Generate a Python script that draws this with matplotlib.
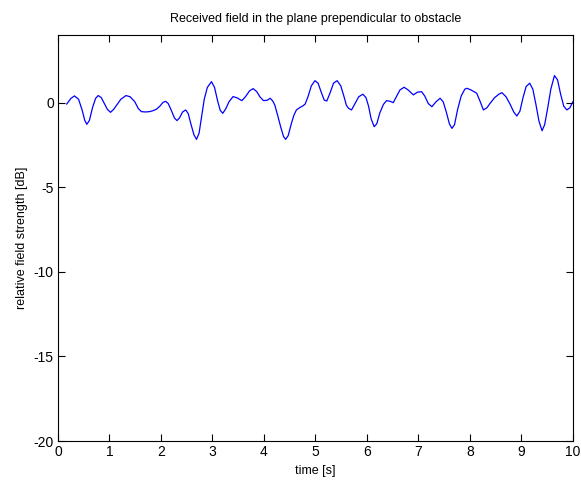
import matplotlib
matplotlib.use("Agg")
import matplotlib.pyplot as plt

plt.rcParams['font.family'] = ['Liberation Sans', 'DejaVu Sans']
plt.rcParams['axes.unicode_minus'] = False

# time [s] and relative field strength [dB]
time_s = [
    0.17, 0.25, 0.32, 0.40, 0.47, 0.52, 0.56, 0.61, 0.67, 0.73, 0.78, 0.84,
    0.90, 0.96, 1.02, 1.08, 1.15, 1.22, 1.32, 1.40, 1.49, 1.56, 1.62, 1.70,
    1.78, 1.85, 1.91, 1.98, 2.04, 2.09, 2.14, 2.20, 2.26, 2.31, 2.36, 2.42,
    2.48, 2.53, 2.58, 2.64, 2.69, 2.74, 2.79, 2.84, 2.90, 2.98, 3.04, 3.10,
    3.15, 3.20, 3.26, 3.32, 3.40, 3.48, 3.57, 3.64, 3.72, 3.79, 3.86, 3.92,
    3.99, 4.06, 4.12, 4.17, 4.21, 4.27, 4.33, 4.38, 4.42, 4.47, 4.53, 4.58,
    4.63, 4.70, 4.76, 4.80, 4.86, 4.92, 4.99, 5.05, 5.12, 5.17, 5.22, 5.28,
    5.35, 5.42, 5.49, 5.55, 5.60, 5.64, 5.70, 5.76, 5.84, 5.92, 5.98, 6.03,
    6.08, 6.14, 6.19, 6.25, 6.32, 6.38, 6.45, 6.51, 6.58, 6.64, 6.72, 6.80,
    6.90, 6.98, 7.06, 7.12, 7.19, 7.26, 7.34, 7.42, 7.48, 7.54, 7.60, 7.65,
    7.70, 7.76, 7.83, 7.90, 7.94, 8.02, 8.13, 8.20, 8.26, 8.33, 8.39, 8.48,
    8.56, 8.62, 8.70, 8.78, 8.85, 8.91, 8.97, 9.03, 9.09, 9.16, 9.22, 9.28,
    9.34, 9.40, 9.45, 9.51, 9.57, 9.64, 9.70, 9.76, 9.82, 9.88, 9.94, 10.0,
]
field_db = [
    -0.08, 0.25, 0.40, 0.20, -0.45, -1.05, -1.28, -1.05, -0.30, 0.25, 0.42, 0.30,
    -0.05, -0.40, -0.57, -0.40, -0.10, 0.20, 0.42, 0.35, 0.06, -0.35, -0.53, -0.55,
    -0.53, -0.47, -0.39, -0.20, 0.02, 0.08, -0.05, -0.45, -0.90, -1.06, -0.90, -0.55,
    -0.43, -0.65, -1.25, -1.90, -2.17, -1.80, -0.80, 0.20, 0.90, 1.24, 0.90, 0.10,
    -0.45, -0.63, -0.35, 0.05, 0.36, 0.28, 0.12, 0.35, 0.70, 0.83, 0.65, 0.35,
    0.12, 0.14, 0.26, 0.10, -0.14, -0.80, -1.50, -2.00, -2.17, -1.95, -1.25, -0.75,
    -0.43, -0.28, -0.18, -0.08, 0.40, 1.00, 1.30, 1.15, 0.55, 0.15, 0.10, 0.55,
    1.15, 1.30, 1.00, 0.40, -0.15, -0.33, -0.43, -0.10, 0.35, 0.50, 0.30, -0.20,
    -0.95, -1.42, -1.25, -0.60, -0.10, 0.12, 0.08, 0.00, 0.40, 0.75, 0.91, 0.75,
    0.46, 0.62, 0.65, 0.40, -0.05, -0.24, 0.05, 0.26, 0.05, -0.55, -1.25, -1.52,
    -1.30, -0.40, 0.40, 0.80, 0.85, 0.75, 0.56, 0.05, -0.43, -0.30, -0.04, 0.30,
    0.50, 0.59, 0.35, -0.10, -0.55, -0.79, -0.50, 0.30, 0.95, 1.15, 0.80, -0.10,
    -1.10, -1.66, -1.30, -0.30, 0.80, 1.60, 1.35, 0.50, -0.20, -0.43, -0.30, 0.06,
]

x_ticks = list(range(0, 11))
y_ticks = [-20, -15, -10, -5, 0]

fig = plt.figure(figsize=(5.81, 4.84), dpi=100)
ax = fig.add_axes([0.0998, 0.0888, 0.8864, 0.8389])

ax.plot(time_s, field_db, color='#0000ff', linewidth=0.9)

ax.set_xlim(0, 10)
ax.set_ylim(-20, 4)
ax.set_xticks(x_ticks)
ax.set_yticks(y_ticks)
ax.tick_params(direction='in', top=True, right=True, length=5, width=0.8,
               labelsize=10, pad=3)
for s in ax.spines.values():
    s.set_linewidth(0.8)

ax.set_title('Received field in the plane prependicular to obstacle',
             fontsize=9, pad=9)
ax.set_xlabel('time [s]', fontsize=9, labelpad=4)
ax.set_ylabel('relative field strength [dB]', fontsize=9, labelpad=4)

fig.savefig('out.png', dpi=100)
